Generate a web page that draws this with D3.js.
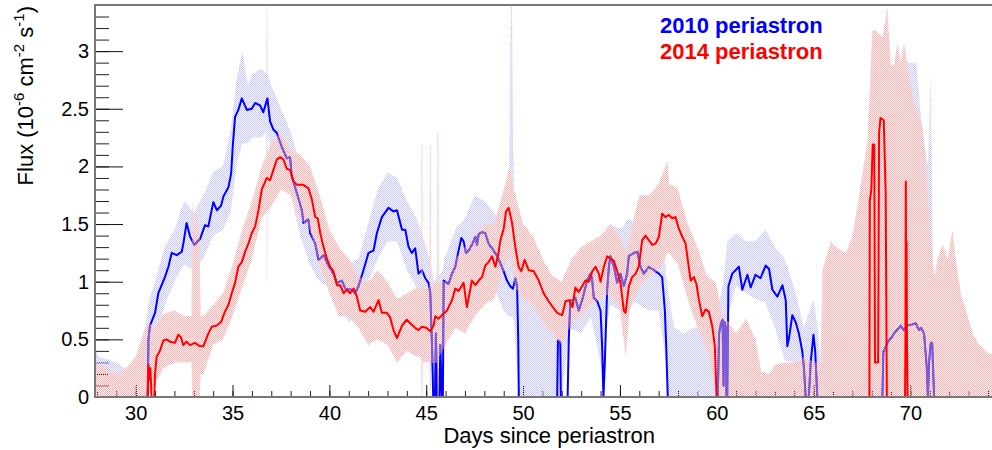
<!DOCTYPE html>
<html>
<head>
<meta charset="utf-8">
<script src="https://cdn.jsdelivr.net/npm/d3@7"></script>
<style>
  body { margin: 0; background: #fff; }
  svg text { font-family: "Liberation Sans", Arial, sans-serif; }
</style>
</head>
<body>
<div id="chart"></div>
<script>
// --- DATA ---
const days2010 = [27.9,30.62,30.66,30.74,31.0,31.17,31.51,31.69,31.86,32.12,32.38,32.46,32.63,32.81,33.03,33.32,33.58,33.75,34.01,34.19,34.41,34.53,34.79,34.93,35.01,35.13,35.3,35.48,35.74,35.99,36.17,36.42,36.59,36.8,36.94,37.11,37.29,37.54,37.8,37.97,38.06,38.32,38.58,38.66,38.92,39.01,39.27,39.44,39.7,39.95,40.21,40.39,40.65,40.82,41.16,41.33,41.5,41.76,42.02,42.28,42.45,42.71,43.05,43.31,43.49,43.75,43.92,44.09,44.26,44.43,44.6,44.78,44.95,45.12,45.21,45.3,45.36,45.45,45.5,45.56,45.68,45.73,45.8,45.86,45.9,46.15,46.33,46.5,46.67,46.81,46.93,47.05,47.19,47.36,47.54,47.62,47.71,47.88,48.05,48.22,48.48,48.66,48.83,49.0,49.17,49.34,49.48,49.6,49.69,49.75,49.78,51.76,51.8,51.92,51.95,52.3,52.36,52.44,52.56,52.7,52.87,53.05,53.31,53.48,53.56,53.65,53.83,54.0,54.08,54.15,54.22,54.34,54.43,54.51,54.69,54.86,55.03,55.2,55.37,55.46,55.72,55.9,56.06,56.23,56.49,56.75,57.01,57.18,57.32,57.39,57.47,60.05,60.12,60.22,60.3,60.35,60.4,60.47,60.5,60.54,60.6,60.8,61.14,61.32,61.58,61.75,62.0,62.26,62.52,62.7,62.87,63.13,63.39,63.56,63.64,63.72,63.9,64.07,64.24,64.42,64.5,64.59,64.75,64.85,64.99,65.08,65.19,68.55,68.6,68.81,69.15,69.5,69.65,69.84,70.1,70.27,70.44,70.55,70.7,70.84,70.9,70.96,71.05,71.12,71.22,74.5];
const flux2010 = [0,0,0.5,0.62,0.73,0.9,1.04,1.13,1.25,1.23,1.26,1.33,1.51,1.39,1.32,1.37,1.49,1.48,1.69,1.62,1.66,1.74,1.82,1.94,2.17,2.43,2.49,2.59,2.49,2.5,2.55,2.53,2.47,2.59,2.39,2.32,2.29,2.17,2.07,2.08,1.91,1.77,1.62,1.51,1.54,1.42,1.33,1.19,1.23,1.14,1.07,0.99,1.01,0.94,0.93,0.9,0.96,1.1,1.25,1.27,1.42,1.56,1.64,1.61,1.62,1.45,1.45,1.3,1.25,1.29,1.07,1.1,1.03,0.99,0.9,0.44,0,0,0.55,0,0,0.45,0,0,1.01,0.98,1.07,1.13,1.27,1.38,1.35,1.25,1.27,1.32,1.39,1.32,1.41,1.43,1.42,1.33,1.27,1.22,1.16,1.09,1.01,0.96,0.94,1.03,0.96,0.5,0,0,0.49,0.47,0,0,0.5,0.84,0.84,0.86,0.75,0.84,1.01,1.07,1.03,0.86,0.83,0.75,0.44,0,0.3,0.93,1.13,1.22,1.13,0.99,1.07,0.96,1.07,1.22,1.25,1.26,1.13,1.07,1.13,1.1,1.07,1.04,0.75,0.44,0,0,0.55,0.64,0.67,0.1,0.65,0.6,0,0,0.96,1.07,1.13,0.93,1.06,0.95,1.06,1.03,1.14,1.11,0.93,0.87,0.97,0.84,0.44,0.5,0.71,0.65,0.55,0.39,0.25,0,0,0.3,0.54,0.4,0,0,0.39,0.47,0.55,0.62,0.58,0.62,0.63,0.64,0.58,0.6,0.55,0.26,0,0.3,0.47,0.47,0,0];

const band2010Days = [27.9,28.05,28.5,29.0,29.5,29.9,30.2,30.5,30.7,31.0,31.5,32.0,32.5,33.0,33.5,34.0,34.5,34.9,35.2,35.5,35.8,36.0,36.5,36.74,36.76,36.79,36.81,37.0,37.5,38.0,38.5,39.0,39.5,40.0,40.5,41.0,41.5,42.0,42.5,43.0,43.5,44.0,44.5,45.0,45.25,45.4,45.85,45.95,46.5,47.0,47.5,48.0,48.5,49.0,49.25,49.3,49.37,49.43,49.48,49.55,49.78,50.0,50.5,51.0,51.5,52.0,52.4,53.0,53.5,54.0,54.15,54.3,54.5,55.0,55.5,56.0,56.5,57.0,57.3,57.5,57.8,58.3,58.8,59.3,59.7,60.0,60.3,60.55,61.0,61.5,62.0,62.5,63.0,63.5,64.0,64.5,65.0,65.2,65.35,65.4,68.4,68.5,68.7,69.0,69.6,70.3,70.6,70.9,71.05,71.15,71.25,74.5];
const band2010Hi = [0.48,0.35,0.33,0.3,0.24,0.22,0.45,0.62,0.85,1.0,1.3,1.45,1.7,1.6,1.75,1.95,2.0,2.3,2.75,3.0,2.7,2.8,2.85,2.8,3.4,3.4,2.8,2.7,2.5,2.3,2.0,1.8,1.5,1.4,1.2,1.15,1.2,1.5,1.8,1.95,1.9,1.7,1.55,1.3,1.15,1.0,1.1,1.2,1.45,1.55,1.75,1.7,1.6,1.45,1.4,2.35,3.4,3.4,2.3,1.5,1.2,1.0,0.95,0.85,0.8,0.9,1.1,1.2,1.3,1.2,1.1,1.4,1.5,1.45,1.55,1.45,1.5,1.35,1.2,0.9,0.6,0.55,0.6,0.6,0.55,0.75,0.95,1.35,1.42,1.35,1.35,1.45,1.3,1.2,0.95,0.6,0.85,0.6,0.35,0,0,0.8,1.5,2.4,2.9,2.9,2.3,2.0,2.8,1.2,0,0];
const band2010Lo = [0,0,0,0,0,0,0,0,0.35,0.5,0.8,1.0,1.15,1.1,1.2,1.4,1.45,1.6,2.0,2.2,2.2,2.25,2.25,2.3,1.0,1.0,2.3,2.1,1.9,1.75,1.4,1.15,1.0,0.95,0.8,0.65,0.7,1.0,1.2,1.35,1.35,1.1,0.95,0.7,0.3,0,0,0.8,0.85,1.0,1.1,1.1,0.95,0.75,0.7,0.7,0.7,0.7,0.7,0.6,0,0,0,0,0,0,0.6,0.55,0.7,0.3,0,0.6,0.8,0.75,0.85,0.8,0.75,0.75,0.4,0,0,0,0,0,0,0,0,0.7,0.96,0.9,0.85,0.82,0.6,0.32,0.3,0,0.2,0,0,0,0,0,0.2,0.3,0.35,0.35,0.3,0,0.2,0,0,0];

const days2014 = [27.9,30.62,30.66,30.72,30.76,30.82,30.96,31.0,31.08,31.25,31.43,31.6,31.77,32.03,32.2,32.33,32.46,32.63,32.8,33.06,33.32,33.49,33.75,33.93,34.19,34.41,34.58,34.79,34.96,35.13,35.3,35.48,35.65,35.82,35.99,36.17,36.34,36.51,36.77,36.94,37.11,37.29,37.46,37.63,37.8,37.97,38.15,38.32,38.66,38.92,39.1,39.27,39.4,39.53,39.7,39.87,40.04,40.21,40.39,40.56,40.73,40.9,41.07,41.25,41.42,41.59,41.85,42.11,42.28,42.54,42.71,42.97,43.14,43.31,43.49,43.75,44.0,44.17,44.43,44.6,44.78,45.0,45.21,45.38,45.47,45.64,45.81,46.07,46.33,46.5,46.67,46.93,47.1,47.36,47.54,47.71,47.88,48.05,48.22,48.4,48.57,48.71,48.83,49.0,49.12,49.26,49.43,49.6,49.77,49.91,50.08,50.29,50.55,50.81,51.06,51.32,51.58,51.76,52.02,52.19,52.38,52.55,52.7,52.87,53.05,53.22,53.4,53.57,53.74,53.91,54.0,54.17,54.34,54.51,54.69,54.86,55.03,55.2,55.29,55.46,55.63,55.81,55.97,56.15,56.32,56.49,56.67,56.84,57.01,57.18,57.35,57.52,57.7,57.87,58.04,58.22,58.39,58.65,58.82,58.95,59.08,59.25,59.42,59.59,59.77,59.9,59.99,67.88,67.9,67.98,68.05,68.13,68.17,68.33,68.38,68.45,68.62,68.72,68.78,69.72,69.74,69.76,69.78,69.8,69.82,69.85,74.5];
const flux2014 = [0,0,0.28,0.15,0.25,0,0,0.2,0.35,0.4,0.49,0.5,0.48,0.47,0.54,0.52,0.45,0.48,0.45,0.47,0.44,0.44,0.55,0.61,0.62,0.65,0.73,0.8,0.9,0.99,1.13,1.17,1.26,1.33,1.42,1.48,1.62,1.8,1.9,1.88,1.97,2.06,2.08,2.06,1.98,1.97,1.87,1.84,1.84,1.81,1.71,1.56,1.55,1.42,1.3,1.2,1.13,1.09,0.97,0.97,0.9,0.93,0.9,0.94,0.87,0.75,0.74,0.78,0.74,0.84,0.73,0.73,0.69,0.58,0.51,0.62,0.67,0.64,0.6,0.58,0.61,0.6,0.57,0.62,0.7,0.68,0.71,0.75,0.84,0.94,0.92,0.99,0.78,1.01,0.97,1.01,1.04,1.14,1.17,1.22,1.13,1.23,1.36,1.46,1.61,1.64,1.51,1.3,1.13,1.09,1.19,1.1,1.09,1.01,0.9,0.83,0.77,0.73,0.71,0.83,0.84,0.78,0.95,0.91,0.96,1.01,1.0,1.09,1.13,1.07,1.0,1.13,1.22,1.2,1.18,1.09,0.99,0.75,0.73,0.96,1.04,1.07,1.13,1.36,1.4,1.36,1.32,1.33,1.39,1.59,1.56,1.58,1.55,1.56,1.46,1.39,1.33,1.01,1.04,0.98,0.84,0.7,0.76,0.74,0.61,0.44,0,0,1.7,1.8,2.19,2.19,0.3,0.3,2.29,2.42,2.4,1.77,0,0,0.5,1.87,0.5,1.35,0.45,0,0];

const band2014Days = [27.9,28.5,29.0,29.5,30.0,30.3,30.6,31.0,31.4,32.0,32.5,32.88,32.92,33.05,33.2,33.3,33.35,33.5,34.0,34.5,35.0,35.5,36.0,36.5,37.0,37.5,38.0,38.5,39.0,39.5,40.0,40.5,41.0,41.5,42.0,42.5,43.0,43.5,44.0,44.5,44.74,44.76,44.8,44.82,45.17,45.19,45.23,45.25,45.56,45.58,45.63,45.65,46.0,46.5,47.0,47.5,48.0,48.5,49.0,49.3,49.6,50.0,50.5,51.0,51.5,52.0,52.5,53.0,53.5,54.0,54.5,55.0,55.3,55.5,56.0,56.5,57.0,57.45,57.55,58.0,58.5,59.0,59.5,59.9,60.0,60.3,60.6,61.0,61.5,62.0,62.3,62.7,63.0,63.5,64.0,64.5,65.0,65.35,65.45,65.9,66.14,66.66,67.0,67.34,67.78,68.03,68.2,68.55,68.81,68.98,69.15,69.33,69.5,69.67,69.93,70.19,70.36,70.62,70.8,70.96,71.22,71.39,71.65,71.91,72.17,72.34,72.6,72.95,73.29,73.63,73.98,74.5];
const band2014Hi = [0.3,0.25,0.2,0.25,0.35,0.5,0.65,0.6,0.72,0.75,0.7,0.7,1.7,1.45,1.6,1.4,0.7,0.7,0.8,0.9,1.15,1.45,1.7,2.0,2.2,2.3,2.15,2.1,2.0,1.75,1.45,1.3,1.2,1.05,1.0,1.1,1.0,0.85,0.9,0.95,0.95,2.19,2.19,0.95,0.95,2.19,2.19,0.95,1.0,2.3,2.3,1.0,1.0,1.2,1.3,1.4,1.5,1.5,1.8,2.0,1.75,1.5,1.4,1.2,1.05,1.0,1.2,1.3,1.35,1.4,1.5,1.4,1.25,1.4,1.75,1.75,1.85,2.05,1.85,1.8,1.5,1.3,1.05,1.0,0.95,0.7,0.65,0.55,0.68,0.5,0.22,0.2,0.28,0.3,0.3,0.35,0.3,0.3,1.1,1.35,1.3,1.25,1.39,1.74,2.23,3.18,3.18,3.12,3.38,2.88,2.88,3.07,2.9,3.07,2.78,2.55,2.5,2.34,2.08,1.62,1.04,1.19,1.33,1.2,1.45,1.19,0.9,0.7,0.52,0.44,0.38,0.36];
const band2014Lo = [0,0,0,0,0,0,0,0.1,0.25,0.3,0.3,0.3,0,0,0,0,0.2,0.2,0.45,0.5,0.7,0.95,1.2,1.55,1.65,1.8,1.75,1.55,1.45,1.15,0.9,0.7,0.7,0.6,0.45,0.5,0.45,0.3,0.4,0.35,0.35,0,0,0.3,0.3,0,0,0.3,0.3,0,0,0.35,0.45,0.6,0.55,0.7,0.8,0.85,1.1,1.25,0.95,0.85,0.8,0.65,0.55,0.45,0.65,0.7,0.8,0.85,0.9,0.75,0.35,0.75,0.95,1.05,1.1,1.25,1.25,1.15,0.85,0.6,0.4,0.1,0,0,0,0,0,0,0,0,0,0,0,0,0,0,0,0,0,0,0,0,0,0,0,0,0,0,0,0,0,0,0,0,0,0,0,0,0,0,0,0,0,0,0,0,0,0,0,0];

const xTicks = [30, 35, 40, 45, 50, 55, 60, 65, 70];
const yTicks = [0, 0.5, 1, 1.5, 2, 2.5, 3];
const legendLabels = ["2010 periastron", "2014 periastron"];

// --- SETUP ---
const W = 992, H = 450;
const svg = d3.select("#chart").append("svg")
    .attr("width", W)
    .attr("height", H);

const x = d3.scaleLinear().domain([27.9, 74.5]).range([95, 95 + 46.6 * 19.37]);
const y = d3.scaleLinear().domain([0, 3.4]).range([397, 5]);

const area = (ds, hi, lo) => d3.area()
    .x((d, i) => x(ds[i]))
    .y0((d, i) => y(lo[i]))
    .y1((d, i) => y(hi[i]))(ds);
const line = (ds, vs) => d3.line()
    .x((d, i) => x(ds[i]))
    .y((d, i) => y(vs[i]))(ds);

// checker patterns, like ROOT's fill style
const defs = svg.append("defs");
function checker(id, color) {
    const p = defs.append("pattern").attr("id", id)
        .attr("patternUnits", "userSpaceOnUse")
        .attr("width", 2).attr("height", 2);
    p.append("rect").attr("x", 0).attr("y", 0).attr("width", 1).attr("height", 1).attr("fill", color);
    p.append("rect").attr("x", 1).attr("y", 1).attr("width", 1).attr("height", 1).attr("fill", color);
}
checker("patBlue", "rgb(196,196,255)");
checker("patRed", "rgb(255,172,172)");

defs.append("clipPath").attr("id", "plotClip")
    .append("rect").attr("x", 95).attr("y", 5).attr("width", W - 95).attr("height", 394);

// area of the 2014 band, used to tint the 2010 line where it is covered
const redBandPath = area(band2014Days, band2014Hi, band2014Lo);
defs.append("clipPath").attr("id", "redBandClip")
    .append("path").attr("d", redBandPath);

// --- AXES ---
const yMinor = d3.range(0, 3.41, 0.1).map(v => +v.toFixed(1));
svg.append("g")
    .attr("transform", "translate(95,0)")
    .call(d3.axisLeft(y).tickValues(yMinor).tickSize(-14).tickFormat(""))
    .call(g => g.select(".domain").remove())
    .selectAll("line").attr("stroke", "#222");

const gy = svg.append("g")
    .attr("transform", "translate(95,0)")
    .call(d3.axisLeft(y).tickValues(yTicks).tickSize(-28).tickPadding(6).tickFormat(d => d));
gy.select(".domain").remove();
gy.selectAll("line").attr("stroke", "#111");
gy.selectAll("text").attr("font-size", 20).attr("fill", "#000")
    .attr("font-family", "Liberation Sans, Arial, sans-serif");

const xMinor = d3.range(28, 75, 1);
svg.append("g")
    .attr("transform", "translate(0,397)")
    .call(d3.axisBottom(x).tickValues(xMinor).tickSize(-6).tickFormat(""))
    .call(g => g.select(".domain").remove())
    .selectAll("line").attr("stroke", "#222");

const gx = svg.append("g")
    .attr("transform", "translate(0,397)")
    .call(d3.axisBottom(x).tickValues(xTicks).tickSize(-12).tickPadding(9).tickFormat(d => d));
gx.select(".domain").remove();
gx.selectAll("line").attr("stroke", "#111");
gx.selectAll("text").attr("font-size", 20).attr("fill", "#000")
    .attr("font-family", "Liberation Sans, Arial, sans-serif");

// --- DATA LAYERS ---
const plot = svg.append("g").attr("clip-path", "url(#plotClip)");

plot.append("path").attr("d", area(band2010Days, band2010Hi, band2010Lo))
    .attr("fill", "url(#patBlue)");
plot.append("path").attr("d", line(days2010, flux2010))
    .attr("fill", "none").attr("stroke", "#0000ff").attr("stroke-width", 2)
    .attr("stroke-linejoin", "round");
plot.append("path").attr("d", redBandPath)
    .attr("fill", "url(#patRed)");
// 2010 line seen through the 2014 band: purple
plot.append("g").attr("clip-path", "url(#redBandClip)")
    .append("path").attr("d", line(days2010, flux2010))
    .attr("fill", "none").attr("stroke", "#7a5ad8").attr("stroke-width", 2)
    .attr("stroke-linejoin", "round");
plot.append("path").attr("d", line(days2014, flux2014))
    .attr("fill", "none").attr("stroke", "#ff0000").attr("stroke-width", 2)
    .attr("stroke-linejoin", "round");

// --- FRAME ---
svg.append("line").attr("x1", 95).attr("x2", 95).attr("y1", 5).attr("y2", 398)
    .attr("stroke", "#777").attr("stroke-width", 2);
svg.append("line").attr("x1", 94).attr("x2", W).attr("y1", 5).attr("y2", 5)
    .attr("stroke", "#777").attr("stroke-width", 2);
svg.append("line").attr("x1", 94).attr("x2", W).attr("y1", 397).attr("y2", 397)
    .attr("stroke", "#777").attr("stroke-width", 2);

// --- TITLES ---
const yTitle = svg.append("text")
    .attr("transform", "translate(33,6) rotate(-90)")
    .attr("text-anchor", "end")
    .attr("font-size", 22)
    .attr("fill", "#000");
yTitle.append("tspan").text("Flux (10");
yTitle.append("tspan").attr("dy", -9).attr("font-size", 15).text("-6");
yTitle.append("tspan").attr("dy", 9).text(" cm");
yTitle.append("tspan").attr("dy", -9).attr("font-size", 15).text("-2");
yTitle.append("tspan").attr("dy", 9).text(" s");
yTitle.append("tspan").attr("dy", -9).attr("font-size", 15).text("-1");
yTitle.append("tspan").attr("dy", 9).text(")");

svg.append("text")
    .attr("x", 655).attr("y", 443)
    .attr("text-anchor", "end")
    .attr("font-size", 22)
    .attr("fill", "#000")
    .text("Days since periastron");

// --- LEGEND ---
svg.append("text").attr("x", 660).attr("y", 33)
    .attr("font-size", 22).attr("font-weight", "bold").attr("fill", "#0000ff")
    .text(legendLabels[0]);
svg.append("text").attr("x", 660).attr("y", 59)
    .attr("font-size", 22).attr("font-weight", "bold").attr("fill", "#ff0000")
    .text(legendLabels[1]);
</script>
</body>
</html>
